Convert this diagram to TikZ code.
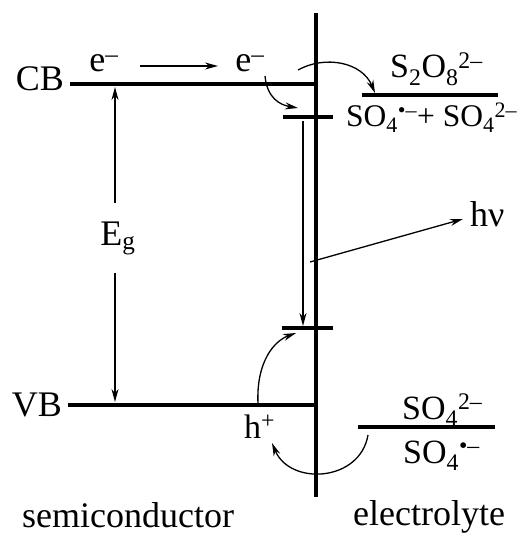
\documentclass[tikz,border=0pt]{standalone}
\usepackage{fontspec}
\setmainfont{Liberation Serif}
\usetikzlibrary{arrows.meta}
\begin{document}
\begin{tikzpicture}[x=1pt,y=-1pt,
  level/.style={line width=4.8pt},
  thinline/.style={line width=1.3pt},
  arr/.style={thinline,-{Stealth[length=13pt,width=7pt]}},
  lbl/.style={font=\fontsize{36}{42}\selectfont, inner sep=0pt},
  chem/.style={font=\fontsize{34}{40}\selectfont, inner sep=0pt}]
\useasboundingbox (0,0) rectangle (530,537);
% interface
\coordinate (itop) at (316,13);
\coordinate (ibot) at (316,497);
\draw[level] (itop) -- (ibot);
% band levels
\coordinate (cbL) at (70,84);  \coordinate (cbR) at (316,84);
\coordinate (vbL) at (68,405); \coordinate (vbR) at (316,405);
\draw[level] (cbL) -- (cbR);
\draw[level] (vbL) -- (vbR);
% surface states
\coordinate (t1L) at (283,117); \coordinate (t1R) at (333,117);
\coordinate (t2L) at (282,328); \coordinate (t2R) at (333,328);
\draw[level] (t1L) -- (t1R);
\draw[level] (t2L) -- (t2R);
% electrolyte levels
\coordinate (e1L) at (362,95);  \coordinate (e1R) at (498,95);
\coordinate (e2L) at (358,427); \coordinate (e2R) at (495,427);
\draw[level] (e1L) -- (e1R);
\draw[level] (e2L) -- (e2R);
% labels
\node[lbl, anchor=base east] (CB) at (64,91) {CB};
\node[lbl, anchor=base east] (VB) at (62,416) {VB};
\node[lbl, anchor=base] (eA) at (104,72) {e\textsuperscript{–}};
\node[lbl, anchor=base] (eB) at (250,72) {e\textsuperscript{–}};
\node[lbl, anchor=base] (Eg) at (118,245) {E\textsubscript{g}};
\node[lbl, anchor=base west] (hv) at (470,226) {hν};
\node[chem, anchor=base west] (hp) at (244,438) {h\textsuperscript{+}};
\node[chem, anchor=base west] (s2o8) at (390,78) {S\textsubscript{2}O\textsubscript{8}\textsuperscript{2–}};
\node[chem, anchor=base west, font=\fontsize{31.5}{38}\selectfont] (prod) at (346,127) {SO\textsubscript{4}\textsuperscript{•–}+ SO\textsubscript{4}\textsuperscript{2–}};
\node[chem, anchor=base west] (so4a) at (402,419) {SO\textsubscript{4}\textsuperscript{2–}};
\node[chem, anchor=base west] (so4b) at (403,463) {SO\textsubscript{4}\textsuperscript{•–}};
\node[lbl, anchor=base west] (sc) at (22,527) {semiconductor};
\node[lbl, anchor=base west] (el) at (353,525) {electrolyte};
% straight arrows
\coordinate (a1) at (140,66); \coordinate (a2) at (218,66);
\draw[arr] (a1) -- (a2);
\coordinate (g1) at (115,203); \coordinate (g2) at (115,87);
\coordinate (g3) at (115,273); \coordinate (g4) at (115,402);
\draw[arr] (g1) -- (g2);
\draw[arr] (g3) -- (g4);
\coordinate (r1) at (303,121); \coordinate (r2) at (303,326);
\draw[arr] (r1) -- (r2);
\coordinate (h1) at (310,262); \coordinate (h2) at (463,219);
\draw[arr] (h1) -- (h2);
% curved arrows
\coordinate (c1s) at (265,76); \coordinate (c1e) at (298,108);
\draw[arr] (c1s) .. controls (267,98) and (280,105) .. (c1e);
\coordinate (c2s) at (298,70); \coordinate (c2e) at (375,93);
\draw[arr] (c2s) .. controls (325,55) and (362,62) .. (c2e);
\coordinate (c3s) at (258,404); \coordinate (c3e) at (296,333);
\draw[arr] (c3s) .. controls (256,362) and (274,341) .. (c3e);
\coordinate (c4s) at (368,435); \coordinate (c4e) at (272,443);
\draw[arr] (c4s) .. controls (360,482) and (290,486) .. (c4e);
\end{tikzpicture}
\end{document}
